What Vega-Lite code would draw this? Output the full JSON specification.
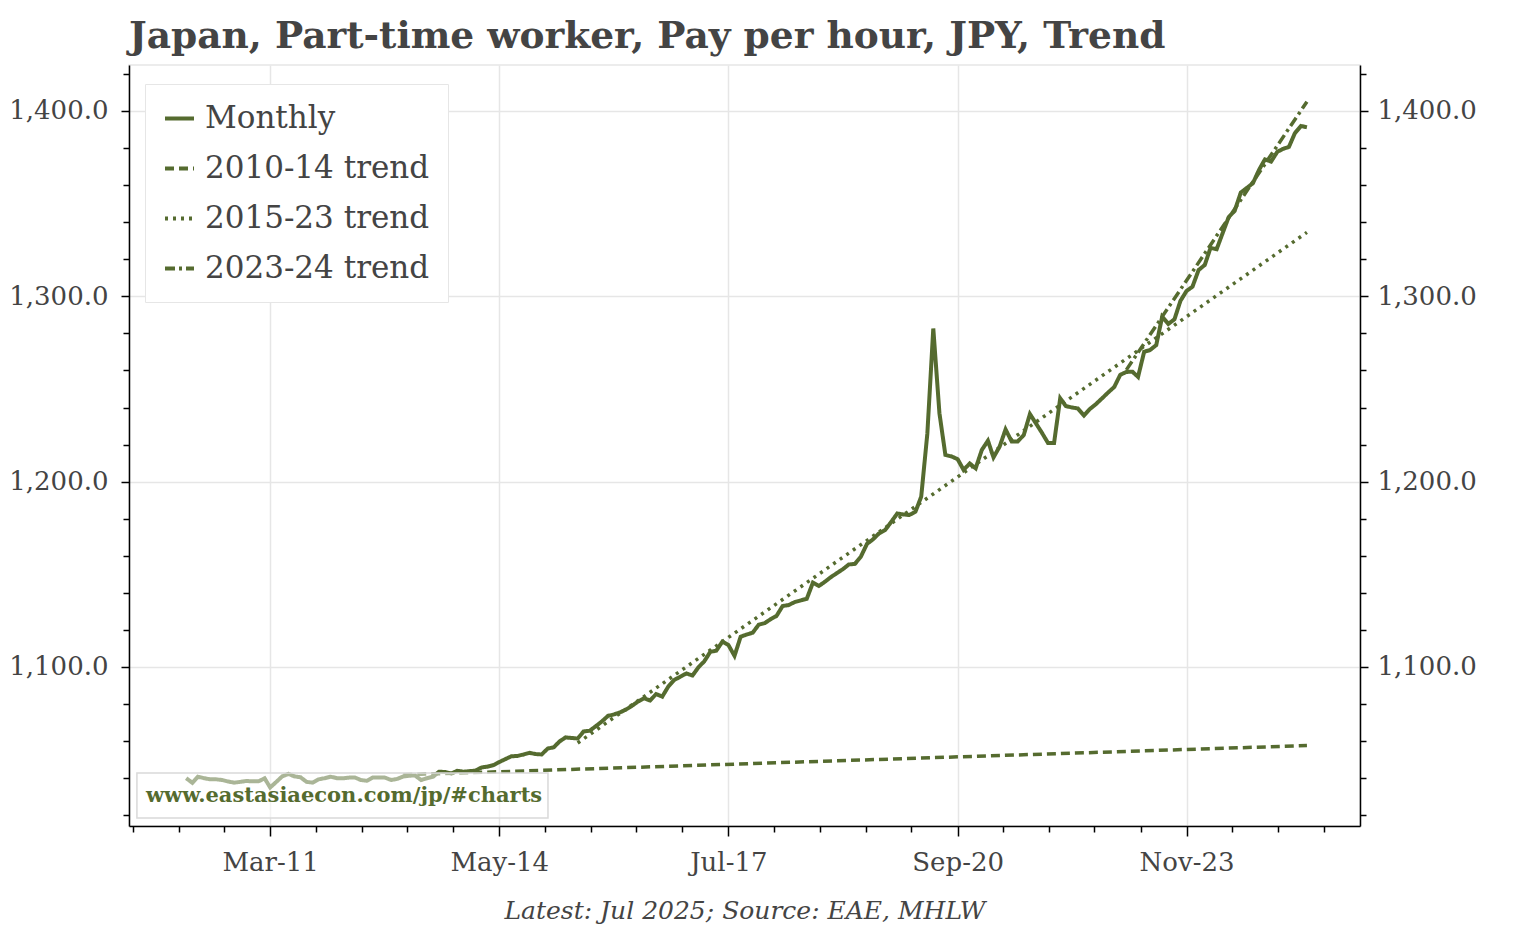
{
  "$schema": "https://vega.github.io/schema/vega-lite/v6.json",
  "width": 1231,
  "height": 761,
  "autosize": {"type": "none"},
  "padding": {"left": 129, "top": 65, "right": 174, "bottom": 104},
  "background": "white",
  "title": {
    "text": "Japan, Part-time worker, Pay per hour, JPY, Trend",
    "anchor": "start",
    "frame": "group",
    "font": "DejaVu Serif",
    "fontSize": 37.5,
    "fontWeight": "bold",
    "color": "#444444",
    "baseline": "alphabetic",
    "offset": -20
  },
  "config": {
    "font": "DejaVu Serif",
    "view": {"stroke": "#e6e6e6", "strokeWidth": 1.5},
    "axis": {
      "domainColor": "#000000",
      "domainWidth": 1.5,
      "tickColor": "#000000",
      "tickWidth": 1.5,
      "labelColor": "#444444",
      "labelFont": "DejaVu Serif",
      "labelFontSize": 26,
      "gridColor": "#e6e6e6",
      "gridWidth": 1.5,
      "titleColor": "#444444"
    },
    "legend": {
      "orient": "none",
      "legendX": 16,
      "legendY": 19,
      "labelFont": "DejaVu Serif",
      "labelFontSize": 31,
      "labelColor": "#444444",
      "labelLimit": 500,
      "labelOffset": 9,
      "symbolType": "stroke",
      "symbolSize": 841,
      "symbolStrokeColor": "#556B2F",
      "symbolStrokeWidth": 4,
      "fillColor": "white",
      "strokeColor": "#e6e6e6",
      "padding": 18,
      "rowPadding": 18
    }
  },
  "datasets": {
    "main": [
      {"date": "2010-01-01", "value": 1040, "series": "Monthly"},
      {"date": "2010-02-01", "value": 1037.5, "series": "Monthly"},
      {"date": "2010-03-01", "value": 1040.8, "series": "Monthly"},
      {"date": "2010-04-01", "value": 1040, "series": "Monthly"},
      {"date": "2010-05-01", "value": 1039.4, "series": "Monthly"},
      {"date": "2010-06-01", "value": 1039.4, "series": "Monthly"},
      {"date": "2010-07-01", "value": 1039, "series": "Monthly"},
      {"date": "2010-08-01", "value": 1038.2, "series": "Monthly"},
      {"date": "2010-09-01", "value": 1037.6, "series": "Monthly"},
      {"date": "2010-10-01", "value": 1038, "series": "Monthly"},
      {"date": "2010-11-01", "value": 1038.5, "series": "Monthly"},
      {"date": "2010-12-01", "value": 1038.3, "series": "Monthly"},
      {"date": "2011-01-01", "value": 1038.3, "series": "Monthly"},
      {"date": "2011-02-01", "value": 1039.9, "series": "Monthly"},
      {"date": "2011-03-01", "value": 1035, "series": "Monthly"},
      {"date": "2011-04-01", "value": 1038, "series": "Monthly"},
      {"date": "2011-05-01", "value": 1041, "series": "Monthly"},
      {"date": "2011-06-01", "value": 1042.3, "series": "Monthly"},
      {"date": "2011-07-01", "value": 1041, "series": "Monthly"},
      {"date": "2011-08-01", "value": 1040.5, "series": "Monthly"},
      {"date": "2011-09-01", "value": 1038, "series": "Monthly"},
      {"date": "2011-10-01", "value": 1037.6, "series": "Monthly"},
      {"date": "2011-11-01", "value": 1039.4, "series": "Monthly"},
      {"date": "2011-12-01", "value": 1040, "series": "Monthly"},
      {"date": "2012-01-01", "value": 1040.8, "series": "Monthly"},
      {"date": "2012-02-01", "value": 1040, "series": "Monthly"},
      {"date": "2012-03-01", "value": 1039.9, "series": "Monthly"},
      {"date": "2012-04-01", "value": 1040.3, "series": "Monthly"},
      {"date": "2012-05-01", "value": 1040.4, "series": "Monthly"},
      {"date": "2012-06-01", "value": 1039, "series": "Monthly"},
      {"date": "2012-07-01", "value": 1038.6, "series": "Monthly"},
      {"date": "2012-08-01", "value": 1040.4, "series": "Monthly"},
      {"date": "2012-09-01", "value": 1040.4, "series": "Monthly"},
      {"date": "2012-10-01", "value": 1040.3, "series": "Monthly"},
      {"date": "2012-11-01", "value": 1039, "series": "Monthly"},
      {"date": "2012-12-01", "value": 1039.6, "series": "Monthly"},
      {"date": "2013-01-01", "value": 1040.9, "series": "Monthly"},
      {"date": "2013-02-01", "value": 1041.3, "series": "Monthly"},
      {"date": "2013-03-01", "value": 1041.5, "series": "Monthly"},
      {"date": "2013-04-01", "value": 1039, "series": "Monthly"},
      {"date": "2013-05-01", "value": 1040, "series": "Monthly"},
      {"date": "2013-06-01", "value": 1040.8, "series": "Monthly"},
      {"date": "2013-07-01", "value": 1043.5, "series": "Monthly"},
      {"date": "2013-08-01", "value": 1043.3, "series": "Monthly"},
      {"date": "2013-09-01", "value": 1042.5, "series": "Monthly"},
      {"date": "2013-10-01", "value": 1044, "series": "Monthly"},
      {"date": "2013-11-01", "value": 1043.5, "series": "Monthly"},
      {"date": "2013-12-01", "value": 1043.8, "series": "Monthly"},
      {"date": "2014-01-01", "value": 1044.1, "series": "Monthly"},
      {"date": "2014-02-01", "value": 1045.8, "series": "Monthly"},
      {"date": "2014-03-01", "value": 1046.2, "series": "Monthly"},
      {"date": "2014-04-01", "value": 1047, "series": "Monthly"},
      {"date": "2014-05-01", "value": 1048.7, "series": "Monthly"},
      {"date": "2014-06-01", "value": 1050.3, "series": "Monthly"},
      {"date": "2014-07-01", "value": 1051.8, "series": "Monthly"},
      {"date": "2014-08-01", "value": 1052, "series": "Monthly"},
      {"date": "2014-09-01", "value": 1052.8, "series": "Monthly"},
      {"date": "2014-10-01", "value": 1053.7, "series": "Monthly"},
      {"date": "2014-11-01", "value": 1053, "series": "Monthly"},
      {"date": "2014-12-01", "value": 1052.8, "series": "Monthly"},
      {"date": "2015-01-01", "value": 1056, "series": "Monthly"},
      {"date": "2015-02-01", "value": 1056.7, "series": "Monthly"},
      {"date": "2015-03-01", "value": 1059.8, "series": "Monthly"},
      {"date": "2015-04-01", "value": 1062, "series": "Monthly"},
      {"date": "2015-05-01", "value": 1061.7, "series": "Monthly"},
      {"date": "2015-06-01", "value": 1061.4, "series": "Monthly"},
      {"date": "2015-07-01", "value": 1065.2, "series": "Monthly"},
      {"date": "2015-08-01", "value": 1065.6, "series": "Monthly"},
      {"date": "2015-09-01", "value": 1068.1, "series": "Monthly"},
      {"date": "2015-10-01", "value": 1070.6, "series": "Monthly"},
      {"date": "2015-11-01", "value": 1073.6, "series": "Monthly"},
      {"date": "2015-12-01", "value": 1074.4, "series": "Monthly"},
      {"date": "2016-01-01", "value": 1075.5, "series": "Monthly"},
      {"date": "2016-02-01", "value": 1077.1, "series": "Monthly"},
      {"date": "2016-03-01", "value": 1079, "series": "Monthly"},
      {"date": "2016-04-01", "value": 1081.4, "series": "Monthly"},
      {"date": "2016-05-01", "value": 1083.1, "series": "Monthly"},
      {"date": "2016-06-01", "value": 1081.9, "series": "Monthly"},
      {"date": "2016-07-01", "value": 1085.4, "series": "Monthly"},
      {"date": "2016-08-01", "value": 1084, "series": "Monthly"},
      {"date": "2016-09-01", "value": 1089.5, "series": "Monthly"},
      {"date": "2016-10-01", "value": 1093, "series": "Monthly"},
      {"date": "2016-11-01", "value": 1094.8, "series": "Monthly"},
      {"date": "2016-12-01", "value": 1096.5, "series": "Monthly"},
      {"date": "2017-01-01", "value": 1095.4, "series": "Monthly"},
      {"date": "2017-02-01", "value": 1100, "series": "Monthly"},
      {"date": "2017-03-01", "value": 1103, "series": "Monthly"},
      {"date": "2017-04-01", "value": 1108.2, "series": "Monthly"},
      {"date": "2017-05-01", "value": 1108.8, "series": "Monthly"},
      {"date": "2017-06-01", "value": 1113.7, "series": "Monthly"},
      {"date": "2017-07-01", "value": 1111.9, "series": "Monthly"},
      {"date": "2017-08-01", "value": 1106, "series": "Monthly"},
      {"date": "2017-09-01", "value": 1116.3, "series": "Monthly"},
      {"date": "2017-10-01", "value": 1117.5, "series": "Monthly"},
      {"date": "2017-11-01", "value": 1118.5, "series": "Monthly"},
      {"date": "2017-12-01", "value": 1122.8, "series": "Monthly"},
      {"date": "2018-01-01", "value": 1123.7, "series": "Monthly"},
      {"date": "2018-02-01", "value": 1125.9, "series": "Monthly"},
      {"date": "2018-03-01", "value": 1127.5, "series": "Monthly"},
      {"date": "2018-04-01", "value": 1132.9, "series": "Monthly"},
      {"date": "2018-05-01", "value": 1133.4, "series": "Monthly"},
      {"date": "2018-06-01", "value": 1135, "series": "Monthly"},
      {"date": "2018-07-01", "value": 1135.9, "series": "Monthly"},
      {"date": "2018-08-01", "value": 1136.8, "series": "Monthly"},
      {"date": "2018-09-01", "value": 1145.5, "series": "Monthly"},
      {"date": "2018-10-01", "value": 1143.7, "series": "Monthly"},
      {"date": "2018-11-01", "value": 1146, "series": "Monthly"},
      {"date": "2018-12-01", "value": 1148.5, "series": "Monthly"},
      {"date": "2019-01-01", "value": 1150.7, "series": "Monthly"},
      {"date": "2019-02-01", "value": 1152.9, "series": "Monthly"},
      {"date": "2019-03-01", "value": 1155.3, "series": "Monthly"},
      {"date": "2019-04-01", "value": 1155.6, "series": "Monthly"},
      {"date": "2019-05-01", "value": 1159.5, "series": "Monthly"},
      {"date": "2019-06-01", "value": 1166.4, "series": "Monthly"},
      {"date": "2019-07-01", "value": 1168.8, "series": "Monthly"},
      {"date": "2019-08-01", "value": 1172.1, "series": "Monthly"},
      {"date": "2019-09-01", "value": 1173.9, "series": "Monthly"},
      {"date": "2019-10-01", "value": 1178.2, "series": "Monthly"},
      {"date": "2019-11-01", "value": 1182.8, "series": "Monthly"},
      {"date": "2019-12-01", "value": 1182.3, "series": "Monthly"},
      {"date": "2020-01-01", "value": 1182, "series": "Monthly"},
      {"date": "2020-02-01", "value": 1183.8, "series": "Monthly"},
      {"date": "2020-03-01", "value": 1191.9, "series": "Monthly"},
      {"date": "2020-04-01", "value": 1226, "series": "Monthly"},
      {"date": "2020-05-01", "value": 1282.7, "series": "Monthly"},
      {"date": "2020-06-01", "value": 1236.9, "series": "Monthly"},
      {"date": "2020-07-01", "value": 1214.4, "series": "Monthly"},
      {"date": "2020-08-01", "value": 1213.6, "series": "Monthly"},
      {"date": "2020-09-01", "value": 1212.1, "series": "Monthly"},
      {"date": "2020-10-01", "value": 1206.3, "series": "Monthly"},
      {"date": "2020-11-01", "value": 1209.8, "series": "Monthly"},
      {"date": "2020-12-01", "value": 1207.2, "series": "Monthly"},
      {"date": "2021-01-01", "value": 1217.1, "series": "Monthly"},
      {"date": "2021-02-01", "value": 1222.1, "series": "Monthly"},
      {"date": "2021-03-01", "value": 1213.1, "series": "Monthly"},
      {"date": "2021-04-01", "value": 1218.9, "series": "Monthly"},
      {"date": "2021-05-01", "value": 1228.2, "series": "Monthly"},
      {"date": "2021-06-01", "value": 1221.6, "series": "Monthly"},
      {"date": "2021-07-01", "value": 1221.6, "series": "Monthly"},
      {"date": "2021-08-01", "value": 1225.2, "series": "Monthly"},
      {"date": "2021-09-01", "value": 1236.5, "series": "Monthly"},
      {"date": "2021-10-01", "value": 1231.5, "series": "Monthly"},
      {"date": "2021-11-01", "value": 1226.3, "series": "Monthly"},
      {"date": "2021-12-01", "value": 1220.9, "series": "Monthly"},
      {"date": "2022-01-01", "value": 1220.9, "series": "Monthly"},
      {"date": "2022-02-01", "value": 1245, "series": "Monthly"},
      {"date": "2022-03-01", "value": 1240.8, "series": "Monthly"},
      {"date": "2022-04-01", "value": 1240, "series": "Monthly"},
      {"date": "2022-05-01", "value": 1239.5, "series": "Monthly"},
      {"date": "2022-06-01", "value": 1235.7, "series": "Monthly"},
      {"date": "2022-07-01", "value": 1239.2, "series": "Monthly"},
      {"date": "2022-08-01", "value": 1241.9, "series": "Monthly"},
      {"date": "2022-09-01", "value": 1245, "series": "Monthly"},
      {"date": "2022-10-01", "value": 1248.1, "series": "Monthly"},
      {"date": "2022-11-01", "value": 1251.1, "series": "Monthly"},
      {"date": "2022-12-01", "value": 1257.6, "series": "Monthly"},
      {"date": "2023-01-01", "value": 1259.2, "series": "Monthly"},
      {"date": "2023-02-01", "value": 1259.3, "series": "Monthly"},
      {"date": "2023-03-01", "value": 1256.5, "series": "Monthly"},
      {"date": "2023-04-01", "value": 1270.1, "series": "Monthly"},
      {"date": "2023-05-01", "value": 1271, "series": "Monthly"},
      {"date": "2023-06-01", "value": 1273.7, "series": "Monthly"},
      {"date": "2023-07-01", "value": 1289, "series": "Monthly"},
      {"date": "2023-08-01", "value": 1285.1, "series": "Monthly"},
      {"date": "2023-09-01", "value": 1287.6, "series": "Monthly"},
      {"date": "2023-10-01", "value": 1297.5, "series": "Monthly"},
      {"date": "2023-11-01", "value": 1302.9, "series": "Monthly"},
      {"date": "2023-12-01", "value": 1305.2, "series": "Monthly"},
      {"date": "2024-01-01", "value": 1314.2, "series": "Monthly"},
      {"date": "2024-02-01", "value": 1316.9, "series": "Monthly"},
      {"date": "2024-03-01", "value": 1326.1, "series": "Monthly"},
      {"date": "2024-04-01", "value": 1325.4, "series": "Monthly"},
      {"date": "2024-05-01", "value": 1334, "series": "Monthly"},
      {"date": "2024-06-01", "value": 1342.8, "series": "Monthly"},
      {"date": "2024-07-01", "value": 1346.1, "series": "Monthly"},
      {"date": "2024-08-01", "value": 1356, "series": "Monthly"},
      {"date": "2024-09-01", "value": 1358.5, "series": "Monthly"},
      {"date": "2024-10-01", "value": 1361, "series": "Monthly"},
      {"date": "2024-11-01", "value": 1368.2, "series": "Monthly"},
      {"date": "2024-12-01", "value": 1373.9, "series": "Monthly"},
      {"date": "2025-01-01", "value": 1372.7, "series": "Monthly"},
      {"date": "2025-02-01", "value": 1377.9, "series": "Monthly"},
      {"date": "2025-03-01", "value": 1379.5, "series": "Monthly"},
      {"date": "2025-04-01", "value": 1380.6, "series": "Monthly"},
      {"date": "2025-05-01", "value": 1388, "series": "Monthly"},
      {"date": "2025-06-01", "value": 1391.9, "series": "Monthly"},
      {"date": "2025-07-01", "value": 1391.2, "series": "Monthly"},
      {"date": "2013-01-01", "value": 1041.8, "series": "2010-14 trend"},
      {"date": "2025-07-01", "value": 1057.6, "series": "2010-14 trend"},
      {"date": "2015-06-01", "value": 1059, "series": "2015-23 trend"},
      {"date": "2025-07-01", "value": 1334.5, "series": "2015-23 trend"},
      {"date": "2023-01-01", "value": 1260.3, "series": "2023-24 trend"},
      {"date": "2025-07-01", "value": 1405, "series": "2023-24 trend"}
    ]
  },
  "data": {"name": "main"},
  "resolve": {"axis": {"x": "independent", "y": "independent"}},
  "layer": [
    {
      "mark": {"type": "line", "opacity": 0},
      "encoding": {
        "x": {
          "field": "date", "type": "temporal",
          "scale": {"type": "utc", "domain": [{"year": 2009, "month": 3, "date": 18, "utc": true}, {"year": 2026, "month": 3, "date": 26, "utc": true}]},
          "axis": {
            "orient": "bottom", "labels": false, "grid": false, "domain": false, "tickSize": 6, "title": null,
            "values": [
              {"year": 2009, "month": 4, "date": 7, "utc": true},
              {"year": 2009, "month": 11, "date": 24, "utc": true},
              {"year": 2010, "month": 7, "date": 13, "utc": true},
              {"year": 2011, "month": 10, "date": 18, "utc": true},
              {"year": 2012, "month": 6, "date": 5, "utc": true},
              {"year": 2013, "month": 1, "date": 22, "utc": true},
              {"year": 2013, "month": 9, "date": 10, "utc": true},
              {"year": 2014, "month": 12, "date": 18, "utc": true},
              {"year": 2015, "month": 8, "date": 6, "utc": true},
              {"year": 2016, "month": 3, "date": 24, "utc": true},
              {"year": 2016, "month": 11, "date": 9, "utc": true},
              {"year": 2018, "month": 2, "date": 17, "utc": true},
              {"year": 2018, "month": 10, "date": 6, "utc": true},
              {"year": 2019, "month": 5, "date": 25, "utc": true},
              {"year": 2020, "month": 1, "date": 11, "utc": true},
              {"year": 2021, "month": 4, "date": 19, "utc": true},
              {"year": 2021, "month": 12, "date": 6, "utc": true},
              {"year": 2022, "month": 7, "date": 24, "utc": true},
              {"year": 2023, "month": 3, "date": 14, "utc": true},
              {"year": 2024, "month": 6, "date": 19, "utc": true},
              {"year": 2025, "month": 2, "date": 5, "utc": true},
              {"year": 2025, "month": 9, "date": 24, "utc": true}
            ]
          }
        },
        "y": {
          "field": "value", "type": "quantitative",
          "scale": {"domain": [1014.2, 1424.8], "zero": false, "nice": false},
          "axis": {
            "orient": "left", "labels": false, "grid": false, "domain": false, "tickSize": 6, "title": null,
            "values": [1020, 1040, 1060, 1080, 1120, 1140, 1160, 1180, 1220, 1240, 1260, 1280, 1320, 1340, 1360, 1380, 1420]
          }
        },
        "detail": {"field": "series", "type": "nominal"}
      }
    },
    {
      "mark": {"type": "line", "opacity": 0},
      "encoding": {
        "x": {"field": "date", "type": "temporal", "axis": null},
        "y": {
          "field": "value", "type": "quantitative",
          "scale": {"domain": [1014.2, 1424.8], "zero": false, "nice": false},
          "axis": {
            "orient": "right", "labels": false, "grid": false, "domain": false, "tickSize": 6, "title": null,
            "values": [1020, 1040, 1060, 1080, 1120, 1140, 1160, 1180, 1220, 1240, 1260, 1280, 1320, 1340, 1360, 1380, 1420]
          }
        },
        "detail": {"field": "series", "type": "nominal"}
      }
    },
    {
      "mark": {"type": "line", "opacity": 0},
      "encoding": {
        "x": {"field": "date", "type": "temporal", "axis": null},
        "y": {
          "field": "value", "type": "quantitative",
          "scale": {"domain": [1014.2, 1424.8], "zero": false, "nice": false},
          "axis": {
            "orient": "right", "grid": false, "domain": true, "tickSize": 8, "labelPadding": 9, "title": null,
            "values": [1100, 1200, 1300, 1400], "format": ",.1f"
          }
        },
        "detail": {"field": "series", "type": "nominal"}
      }
    },
    {
      "transform": [{"filter": "datum.series === 'Monthly'"}],
      "mark": {"type": "line", "color": "#556B2F", "strokeWidth": 4},
      "encoding": {
        "x": {
          "field": "date", "type": "temporal",
          "scale": {"type": "utc", "domain": [{"year": 2009, "month": 3, "date": 18, "utc": true}, {"year": 2026, "month": 3, "date": 26, "utc": true}]},
          "axis": {
            "orient": "bottom", "grid": true, "tickSize": 10, "labelPadding": 13, "format": "%b-%y",
            "values": [
              {"year": 2011, "month": 3, "date": 1, "utc": true},
              {"year": 2014, "month": 5, "date": 1, "utc": true},
              {"year": 2017, "month": 7, "date": 1, "utc": true},
              {"year": 2020, "month": 9, "date": 1, "utc": true},
              {"year": 2023, "month": 11, "date": 1, "utc": true}
            ],
            "title": "Latest: Jul 2025; Source: EAE, MHLW",
            "titleFont": "DejaVu Serif",
            "titleFontSize": 25,
            "titleFontStyle": "italic",
            "titleFontWeight": "normal",
            "titlePadding": 23
          }
        },
        "y": {
          "field": "value", "type": "quantitative",
          "scale": {"domain": [1014.2, 1424.8], "zero": false, "nice": false},
          "axis": {
            "orient": "left", "grid": true, "tickSize": 8, "labelPadding": 13, "title": null,
            "values": [1100, 1200, 1300, 1400], "format": ",.1f"
          }
        },
        "strokeDash": {
          "field": "series", "type": "nominal",
          "scale": {"domain": ["Monthly", "2010-14 trend", "2015-23 trend", "2023-24 trend"], "range": [[1, 0], [9, 5], [3, 5], [10, 4, 3, 4]]},
          "legend": {"title": null}
        }
      }
    },
    {
      "transform": [{"filter": "datum.series !== 'Monthly'"}],
      "mark": {"type": "line", "color": "#556B2F", "strokeWidth": 3.5},
      "encoding": {
        "x": {"field": "date", "type": "temporal", "axis": null},
        "y": {"field": "value", "type": "quantitative", "axis": null},
        "strokeDash": {
          "field": "series", "type": "nominal",
          "scale": {"domain": ["Monthly", "2010-14 trend", "2015-23 trend", "2023-24 trend"], "range": [[1, 0], [9, 5], [3, 5], [10, 4, 3, 4]]},
          "legend": {"title": null}
        }
      }
    },
    {
      "data": {"values": [{}]},
      "mark": {"type": "rect", "fill": "white", "fillOpacity": 0.5, "stroke": "#d9d9d9", "strokeWidth": 1.5},
      "encoding": {
        "x": {"datum": {"year": 2009, "month": 4, "date": 27, "utc": true}, "type": "temporal", "axis": null},
        "x2": {"datum": {"year": 2015, "month": 1, "date": 2, "utc": true}},
        "y": {"datum": 1042.8, "type": "quantitative", "axis": null},
        "y2": {"datum": 1018.5}
      }
    },
    {
      "data": {"values": [{}]},
      "mark": {"type": "text", "text": "www.eastasiaecon.com/jp/#charts", "font": "DejaVu Serif", "fontSize": 21, "fontWeight": "bold", "color": "#556B2F", "align": "left", "baseline": "middle"},
      "encoding": {
        "x": {"datum": {"year": 2009, "month": 6, "date": 12, "utc": true}, "type": "temporal", "axis": null},
        "y": {"datum": 1030.4, "type": "quantitative", "axis": null}
      }
    }
  ]
}
